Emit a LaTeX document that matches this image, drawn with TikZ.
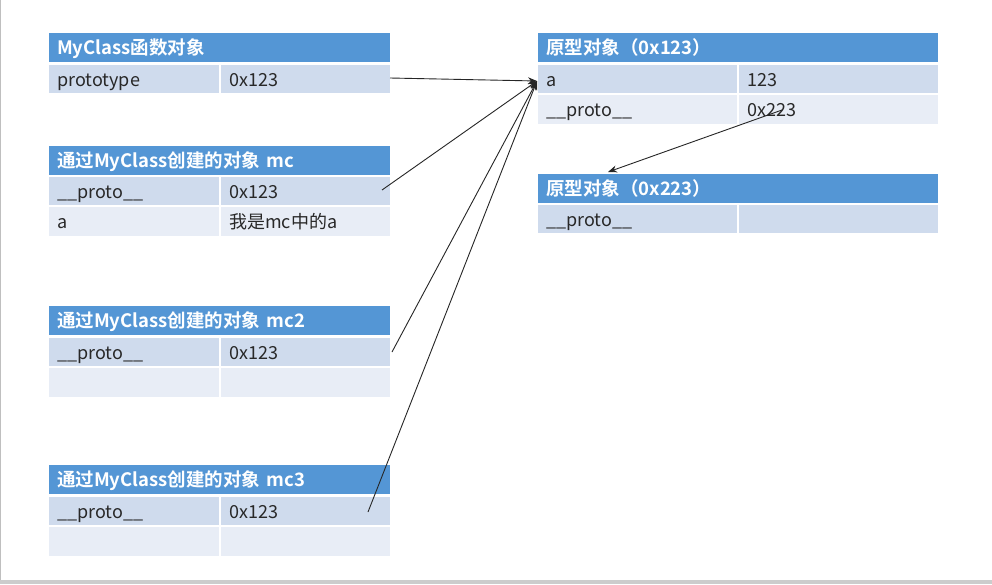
\documentclass[tikz,border=0pt]{standalone}
\usepackage{fontspec}
\setmainfont{Noto Sans CJK SC}[BoldFont={Noto Sans CJK SC Bold}]
\usetikzlibrary{arrows.meta}
\definecolor{hdrblue}{RGB}{84,150,213}
\definecolor{rowdark}{RGB}{207,219,237}
\definecolor{rowlight}{RGB}{232,237,246}
\definecolor{txt}{RGB}{40,40,40}
\tikzset{
  cell/.style={rectangle, anchor=north west, inner xsep=8pt, inner ysep=0pt, align=left,
    font=\fontsize{18}{20}\selectfont, text=txt},
  hdr/.style={cell, fill=hdrblue, text=white, font=\fontsize{18.5}{20}\selectfont\bfseries,
    minimum height=29pt},
  ra/.style={cell, fill=rowdark, minimum height=28pt},
  rb/.style={cell, fill=rowlight, minimum height=29pt},
  ptr/.style={draw=black!85, line width=0.9pt, -{Stealth[length=9pt,width=7pt]}},
}
\newcommand{\cellbox}[6]{% name, style, x, y, width, text
  \node[#2, minimum width=#5pt, text width=#5pt-16pt] (#1) at (#3,#4) {\raisebox{-3pt}[0pt][0pt]{#6}\strut};}
\begin{document}
\begin{tikzpicture}[x=1pt,y=-1pt]
\useasboundingbox (0,0) rectangle (992,584);
\fill[white] (0,0) rectangle (992,584);
\fill[black!20] (0,580) rectangle (992,584);
\draw[black!25, line width=1pt] (0.5,0) -- (0.5,580);

% MyClass function object
\cellbox{t1h}{hdr}{49}{33}{341}{MyClass函数对象}
\cellbox{t1a}{ra}{49}{65}{170}{prototype}
\cellbox{t1b}{ra}{221}{65}{169}{0x123}

% mc
\cellbox{t2h}{hdr}{49}{146}{341}{通过MyClass创建的对象 mc}
\cellbox{t2a}{ra}{49}{177}{170}{\_\_proto\_\_}
\cellbox{t2b}{ra}{221}{177}{169}{0x123}
\cellbox{t2c}{rb}{49}{207}{170}{a}
\cellbox{t2d}{rb}{221}{207}{169}{我是mc中的a}

% mc2
\cellbox{t3h}{hdr}{49}{306}{341}{通过MyClass创建的对象 mc2}
\cellbox{t3a}{ra}{49}{338}{170}{\_\_proto\_\_}
\cellbox{t3b}{ra}{221}{338}{169}{0x123}
\cellbox{t3c}{rb}{49}{368}{170}{}
\cellbox{t3d}{rb}{221}{368}{169}{}

% mc3
\cellbox{t4h}{hdr}{49}{465}{341}{通过MyClass创建的对象 mc3}
\cellbox{t4a}{ra}{49}{497}{170}{\_\_proto\_\_}
\cellbox{t4b}{ra}{221}{497}{169}{0x123}
\cellbox{t4c}{rb}{49}{527}{170}{}
\cellbox{t4d}{rb}{221}{527}{169}{}

% prototype 0x123
\cellbox{p1h}{hdr}{538}{33}{400}{原型对象（0x123）}
\cellbox{p1a}{ra}{538}{65}{199}{a}
\cellbox{p1b}{ra}{739}{65}{199}{123}
\cellbox{p1c}{rb}{538}{95}{199}{\_\_proto\_\_}
\cellbox{p1d}{rb}{739}{95}{199}{0x223}

% prototype 0x223
\cellbox{p2h}{hdr}{538}{174}{400}{原型对象（0x223）}
\cellbox{p2a}{ra}{538}{205}{199}{\_\_proto\_\_}
\cellbox{p2b}{ra}{739}{205}{199}{}

% connectors
\coordinate (tgt) at (537,81);
\coordinate (s1) at (390,78);
\coordinate (s2) at (382,190);
\coordinate (s3) at (392,352);
\coordinate (s4) at (368,512);
\coordinate (s5) at (782,110);
\coordinate (e5) at (608,172);
\draw[ptr] (s1) -- (tgt);
\draw[ptr] (s2) -- (tgt);
\draw[ptr] (s3) -- (tgt);
\draw[ptr] (s4) -- (tgt);
\draw[ptr] (s5) -- (e5);
\end{tikzpicture}
\end{document}
